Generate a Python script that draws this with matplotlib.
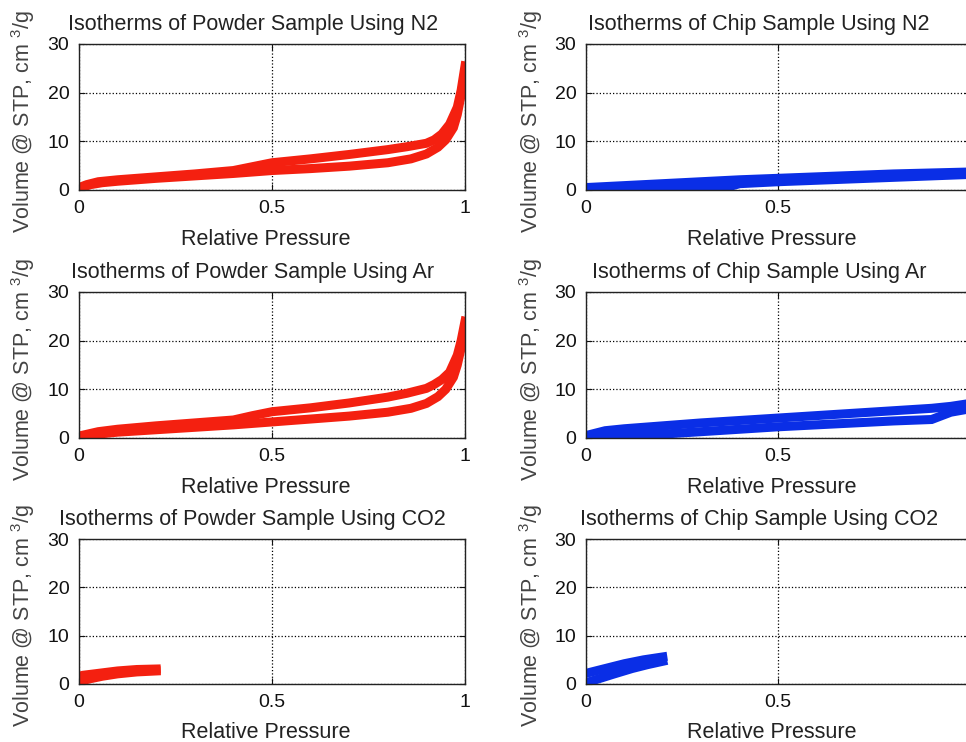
import matplotlib.pyplot as plt
import numpy as np

plt.rcParams['font.family'] = ['Liberation Sans', 'DejaVu Sans']
plt.rcParams['mathtext.fontset'] = 'custom'
plt.rcParams['mathtext.rm'] = 'Liberation Sans'
plt.rcParams['mathtext.it'] = 'Liberation Sans'

# powder, N2
pn2_ads_x = [0, 0.01, 0.03, 0.06, 0.1, 0.2, 0.3, 0.4, 0.5, 0.6, 0.7, 0.8, 0.86, 0.9, 0.93, 0.95, 0.97, 0.98, 0.99, 1.0]
pn2_ads_y = [0, 0.6, 1.1, 1.5, 1.8, 2.4, 2.9, 3.4, 4.0, 4.4, 4.9, 5.6, 6.4, 7.4, 8.8, 10.3, 12.8, 15.5, 19.5, 24.5]
pn2_des_x = [1.0, 0.99, 0.98, 0.96, 0.94, 0.92, 0.9, 0.85, 0.8, 0.7, 0.6, 0.5, 0.45, 0.4, 0.3, 0.2, 0.1, 0.05, 0.02, 0]
pn2_des_y = [25.5, 20.5, 17, 13.5, 11.5, 10.3, 9.6, 8.9, 8.3, 7.3, 6.4, 5.6, 4.8, 4.0, 3.3, 2.7, 2.1, 1.7, 1.1, 0.5]

# powder, Ar
par_ads_x = [0, 0.02, 0.05, 0.1, 0.2, 0.3, 0.4, 0.5, 0.6, 0.7, 0.8, 0.86, 0.9, 0.93, 0.95, 0.97, 0.98, 0.99, 1.0]
par_ads_y = [0, 0.4, 0.8, 1.2, 1.7, 2.2, 2.7, 3.3, 3.9, 4.5, 5.3, 6.1, 7.1, 8.5, 10.0, 12.5, 15.0, 18.5, 23.0]
par_des_x = [1.0, 0.99, 0.98, 0.96, 0.94, 0.92, 0.9, 0.85, 0.8, 0.7, 0.6, 0.5, 0.45, 0.4, 0.3, 0.2, 0.1, 0.05, 0]
par_des_y = [24.0, 20.0, 17.0, 13.5, 12.0, 11.0, 10.2, 9.2, 8.4, 7.2, 6.2, 5.4, 4.6, 3.7, 3.1, 2.5, 1.8, 1.3, 0.4]

# powder, CO2
pco2_ads_x = [0, 0.01, 0.03, 0.06, 0.1, 0.15, 0.2]
pco2_ads_y = [0.4, 0.7, 1.1, 1.6, 2.1, 2.5, 2.7]
pco2_des_x = [0.2, 0.15, 0.1, 0.06, 0.03, 0.01, 0]
pco2_des_y = [3.1, 3.0, 2.7, 2.3, 2.0, 1.8, 1.6]

# chip, N2
cn2_ads_x = [0, 0.1, 0.2, 0.3, 0.36, 0.4, 0.5, 0.6, 0.7, 0.8, 0.9, 1.0]
cn2_ads_y = [0.3, 0.3, 0.3, 0.35, 0.4, 1.3, 1.7, 2.0, 2.3, 2.6, 2.9, 3.2]
cn2_des_x = [1.0, 0.9, 0.8, 0.7, 0.6, 0.5, 0.4, 0.3, 0.2, 0.1, 0]
cn2_des_y = [3.7, 3.5, 3.3, 3.0, 2.7, 2.4, 2.1, 1.7, 1.3, 0.9, 0.5]

# chip, Ar
car_ads_x = [0, 0.1, 0.18, 0.3, 0.4, 0.5, 0.6, 0.7, 0.8, 0.9, 0.92, 0.95, 1.0]
car_ads_y = [0.2, 0.4, 0.7, 1.3, 1.8, 2.3, 2.7, 3.1, 3.5, 3.8, 4.4, 5.3, 6.0]
car_des_x = [1.0, 0.95, 0.9, 0.8, 0.7, 0.6, 0.5, 0.4, 0.3, 0.2, 0.1, 0.05, 0]
car_des_y = [7.1, 6.5, 6.1, 5.6, 5.1, 4.6, 4.1, 3.6, 3.1, 2.5, 1.9, 1.5, 0.5]

# chip, CO2
cco2_ads_x = [0, 0.01, 0.03, 0.07, 0.12, 0.16, 0.2]
cco2_ads_y = [0.3, 0.5, 1.0, 2.0, 3.2, 4.0, 4.7]
cco2_des_x = [0.2, 0.15, 0.1, 0.05, 0.02, 0]
cco2_des_y = [5.6, 5.0, 4.2, 3.2, 2.6, 2.2]

titles = [
    ['Isotherms of Powder Sample Using N2', 'Isotherms of Chip Sample Using N2'],
    ['Isotherms of Powder Sample Using Ar', 'Isotherms of Chip Sample Using Ar'],
    ['Isotherms of Powder Sample Using CO2', 'Isotherms of Chip Sample Using CO2'],
]
curves = [
    [(pn2_ads_x, pn2_ads_y, pn2_des_x, pn2_des_y), (cn2_ads_x, cn2_ads_y, cn2_des_x, cn2_des_y)],
    [(par_ads_x, par_ads_y, par_des_x, par_des_y), (car_ads_x, car_ads_y, car_des_x, car_des_y)],
    [(pco2_ads_x, pco2_ads_y, pco2_des_x, pco2_des_y), (cco2_ads_x, cco2_ads_y, cco2_des_x, cco2_des_y)],
]
colors = ['#f42010', '#0a2ee6']

W, H = 966, 742
cols_px = [(79, 465), (586, 970)]
rows_px = [(44, 190), (292, 438), (539, 684)]

fig = plt.figure(figsize=(W / 100, H / 100), dpi=100)

for r, (top, bot) in enumerate(rows_px):
    for c, (lft, rgt) in enumerate(cols_px):
        ax = fig.add_axes([lft / W, 1 - bot / H, (rgt - lft) / W, (bot - top) / H])
        ax_x, ax_y, de_x, de_y = curves[r][c]
        ax.plot(ax_x, ax_y, color=colors[c], lw=6.5, solid_joinstyle='miter')
        ax.plot(de_x, de_y, color=colors[c], lw=6.5, solid_joinstyle='miter')
        ax.set_xlim(0, 1)
        ax.set_ylim(0, 30)
        ax.set_xticks([0, 0.5, 1])
        ax.set_xticklabels(['0', '0.5', '1'])
        ax.set_yticks([0, 10, 20, 30])
        ax.grid(True, ls=':', color='black', lw=0.9)
        ax.tick_params(direction='in', length=4, top=True, right=True,
                       labelsize=14, pad=7, colors='#111111')
        for s in ax.spines.values():
            s.set_linewidth(1.0)
            s.set_color('#222222')
        ax.set_title(titles[r][c], fontsize=15.5, x=0.45, pad=10, color='#222222')
        ax.set_xlabel('Relative Pressure', fontsize=15.5, color='#222222')
        ax.xaxis.set_label_coords(0.485, -0.265)
        ax.set_ylabel('Volume @ STP, cm $^{3}$/g', fontsize=15.5, color='#444444')
        ax.yaxis.set_label_coords(-0.108, 0.47)

fig.savefig('out.png', dpi=100)
